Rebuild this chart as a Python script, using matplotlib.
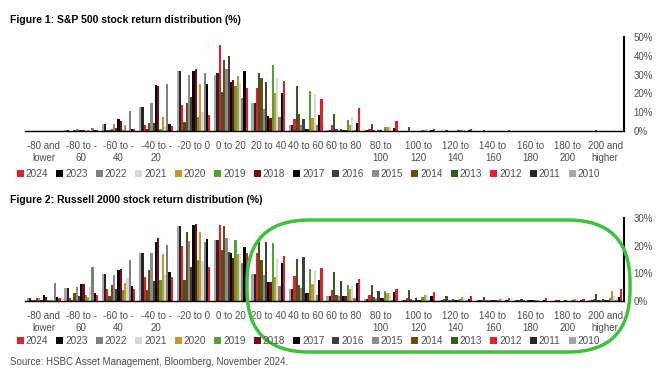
# S&P 500 / Russell 2000 stock return distribution, two panels
import numpy as np
import matplotlib
matplotlib.use("Agg")
import matplotlib.pyplot as plt
from matplotlib.patches import Patch, FancyBboxPatch
from matplotlib.transforms import IdentityTransform

plt.rcParams['font.family'] = ['Liberation Sans', 'DejaVu Sans']

# categories (return buckets)
categories = ["-80 and\nlower", "-80 to -\n60", "-60 to -\n40", "-40 to -\n20", "-20 to 0",
              "0 to 20", "20 to 40", "40 to 60", "60 to 80", "80 to\n100", "100 to\n120",
              "120 to\n140", "140 to\n160", "160 to\n180", "180 to\n200", "200 and\nhigher"]

years = ["2024", "2023", "2022", "2021", "2020", "2019", "2018", "2017",
         "2016", "2015", "2014", "2013", "2012", "2011", "2010"]
colors = ["#E0202F", "#000000", "#7F7F7F", "#D9D9D9", "#C8962A", "#55A033", "#7B0C12", "#0A0A0A",
          "#404040", "#8C8C8C", "#6E4A0E", "#2F5E1F", "#F0182A", "#262626", "#A6A6A6"]

# S&P 500 share of stocks per bucket (%), one list per year
spx_2024 = [0, 0.3, 1, 2.7, 8.3, 23, 26.6, 17.2, 12, 5.1, 1, 1, 0.3, 0, 0, 0]
spx_2023 = [0, 0.3, 1, 3.5, 24.8, 31.7, 20.4, 8.3, 4.4, 1.5, 0.5, 0.3, 0, 0, 0, 0]
spx_2022 = [0.2, 1.5, 10.5, 25, 31, 17.7, 7.4, 3, 0.3, 0.2, 0, 0, 0, 0, 0, 0]
spx_2021 = [0, 0, 0.5, 2, 10, 25.5, 28.4, 19.9, 7.4, 2, 0.8, 0.3, 0, 0, 0, 0.3]
spx_2020 = [0, 0.3, 3, 7.4, 24.8, 29, 20.2, 7.1, 3.4, 2, 0.5, 0.3, 0.2, 0, 0, 0.2]
spx_2019 = [0, 0, 0.3, 1, 7.4, 24, 35, 21.3, 5.7, 2, 0.5, 0.3, 0, 0, 0, 0]
spx_2018 = [0, 0.3, 5.5, 24, 33, 27, 7.1, 1.2, 0.3, 0.2, 0, 0.5, 0, 0, 0, 0]
spx_2017 = [0, 0.3, 6.2, 24.3, 31.7, 26, 7.8, 1.2, 0.5, 0.3, 0, 0, 0, 0, 0, 0]
spx_2016 = [0, 0.5, 1.5, 4.4, 18.3, 40, 26, 6.6, 1, 0.5, 0.2, 0, 0, 0, 0, 0]
spx_2015 = [0.2, 1, 3.5, 14.7, 30, 33, 11.5, 3.4, 0.5, 0.2, 0, 0, 0, 0, 0, 0]
spx_2014 = [0, 0.3, 1, 4.4, 15, 38, 28, 9, 1, 0.5, 0.2, 0, 0, 0, 0, 0]
spx_2013 = [0, 0, 0.3, 0.8, 5, 21, 31, 24, 9, 3.9, 2, 0.5, 0.3, 0, 0, 0.3]
spx_2012 = [0, 0.2, 0.5, 3, 14, 46, 23, 6.6, 3, 1, 0, 0, 0, 0, 0, 0]
spx_2011 = [0.2, 0.5, 3.5, 13, 32, 31, 15, 3, 0.5, 0.3, 0, 0, 0, 0, 0, 0]
spx_2010 = [0.2, 0.5, 3.5, 13, 32, 30, 15, 3, 0.5, 0.3, 0, 0, 0, 0, 0, 0]

# Russell 2000 share of stocks per bucket (%)
rty_2024 = [1, 2.2, 4.3, 8.8, 12.4, 17.2, 16.2, 11.8, 7.9, 4.5, 3.1, 1.9, 1.2, 1.1, 0.8, 4.5]
rty_2023 = [1.3, 2.8, 5.4, 10.6, 22.3, 19.4, 13.8, 7.6, 6.4, 3.1, 1.7, 0.8, 0.5, 0.3, 0.2, 1.6]
rty_2022 = [6.4, 12.2, 14.8, 20.2, 21.2, 13.6, 5.4, 2.2, 1, 0.5, 0.3, 0.2, 0.1, 0.1, 0.1, 0.3]
rty_2021 = [0.8, 5.2, 8.2, 9.4, 14.6, 17, 15.4, 10.8, 5.4, 2.9, 2, 1.2, 0.7, 0.4, 0.3, 1.9]
rty_2020 = [0.5, 1.6, 6.4, 17, 24.8, 17, 8.8, 6.1, 4.5, 2.9, 2.3, 1.4, 0.7, 0.5, 0.6, 3.5]
rty_2019 = [0.5, 2, 4, 7.6, 14.8, 22, 21, 11.4, 5.7, 3.5, 1.5, 0.8, 0.5, 0.3, 0.2, 1]
rty_2018 = [1.3, 6.1, 11.4, 22.6, 28, 15.4, 7, 2.8, 1.8, 1.2, 0.5, 0.3, 0.2, 0.2, 0.1, 0.4]
rty_2017 = [2.2, 6.1, 11.2, 21.2, 27.4, 17.2, 7, 2.8, 1.8, 1.2, 0.5, 0.3, 0.2, 0.2, 0.1, 0.5]
rty_2016 = [0.5, 1.8, 4.2, 7.3, 12.4, 17.8, 21.4, 15.8, 7.2, 3.5, 1.1, 0.8, 0.4, 0.3, 0.2, 0.8]
rty_2015 = [1, 4.9, 9.3, 17.2, 21.8, 22.6, 9.4, 4.6, 1.8, 1, 0.5, 0.3, 0.2, 0.1, 0.1, 0.3]
rty_2014 = [1, 2.8, 5.8, 11.2, 25, 27.2, 15, 5.8, 2.2, 1.3, 0.8, 0.5, 0.3, 0.2, 0.1, 0.5]
rty_2013 = [0.3, 0.5, 1.8, 4, 7.6, 18.4, 21.2, 15.2, 10.6, 5.9, 4, 1.9, 1.4, 0.6, 0.4, 2.6]
rty_2012 = [0.3, 1, 4.2, 8.5, 20, 27.4, 17.2, 9.1, 4, 2.3, 1.1, 0.7, 0.4, 0.3, 0.2, 0.7]
rty_2011 = [1, 4.8, 9.7, 17.4, 27, 22, 9.7, 4.2, 1.8, 0.7, 0.5, 0.3, 0.2, 0.2, 0.1, 0.3]
rty_2010 = [1, 4.8, 9.7, 17.4, 27, 22, 9.7, 4.2, 1.8, 0.7, 0.5, 0.3, 0.2, 0.2, 0.1, 0.3]

spx = [spx_2024, spx_2023, spx_2022, spx_2021, spx_2020, spx_2019, spx_2018, spx_2017,
       spx_2016, spx_2015, spx_2014, spx_2013, spx_2012, spx_2011, spx_2010]
rty = [rty_2024, rty_2023, rty_2022, rty_2021, rty_2020, rty_2019, rty_2018, rty_2017,
       rty_2016, rty_2015, rty_2014, rty_2013, rty_2012, rty_2011, rty_2010]

txt = "#4D4D4D"
W, H = 667, 374
fig = plt.figure(figsize=(W / 100, H / 100), dpi=100)


def panel(rect, data, ymax, legend_y):
    ax = fig.add_axes(rect)
    x = np.arange(len(categories))
    n = len(years)
    bw = 0.9 / n
    # oldest year is drawn leftmost in each group
    for j, k in enumerate(range(n - 1, -1, -1)):
        ax.bar(x - 0.45 + bw * (j + 0.5), data[k], width=bw, color=colors[k], linewidth=0)
    ax.set_xlim(-0.5, len(categories) - 0.5)
    ax.set_ylim(0, ymax)
    ax.set_xticks(x)
    ax.set_xticklabels(categories, fontsize=7, color=txt, linespacing=1.25)
    ax.tick_params(axis='x', length=0, pad=7)
    ax.yaxis.tick_right()
    ax.set_yticks(np.arange(0, ymax + 1, 10))
    ax.set_yticklabels([f"{v}%" for v in range(0, ymax + 1, 10)], fontsize=7, color=txt)
    ax.tick_params(axis='y', length=0, pad=7)
    for s in ['top', 'left']:
        ax.spines[s].set_visible(False)
    ax.spines['bottom'].set_color('black')
    ax.spines['bottom'].set_linewidth(1)
    ax.spines['right'].set_color('black')
    ax.spines['right'].set_linewidth(1.5)
    handles = [Patch(facecolor=c, edgecolor='none') for c in colors]
    fig.legend(handles, years, loc='center left', bbox_to_anchor=(0.025, legend_y), ncol=15,
               frameon=False, fontsize=7.2, labelcolor=txt, handlelength=0.7, handleheight=0.7,
               handletextpad=0.2, columnspacing=0.8, borderaxespad=0, borderpad=0)
    return ax


panel([25 / W, 1 - 131 / H, 599 / W, 94 / H], spx, 50, 1 - 174 / H)
panel([25 / W, 1 - 301 / H, 599 / W, 83 / H], rty, 30, 1 - 341 / H)

fig.text(10 / W, 1 - 20 / H, "Figure 1: S&P 500 stock return distribution (%)",
         fontsize=7.5, weight='bold', va='center')
fig.text(10 / W, 1 - 200 / H, "Figure 2: Russell 2000 stock return distribution (%)",
         fontsize=7.5, weight='bold', va='center')
fig.text(10 / W, 1 - 362 / H, "Source: HSBC Asset Management, Bloomberg, November 2024.",
         fontsize=7, color=txt, va='center')

# green highlight drawn over the right tail of figure 2 (pixel coords)
x0, x1, ytop, ybot = 247, 630, 220, 352
hl = FancyBboxPatch((x0, H - ybot), x1 - x0, ybot - ytop,
                    boxstyle="round,pad=0,rounding_size=62",
                    transform=IdentityTransform(), fill=False,
                    edgecolor="#3DC23D", linewidth=2.5)
fig.add_artist(hl)

fig.savefig("out.png", dpi=100)
